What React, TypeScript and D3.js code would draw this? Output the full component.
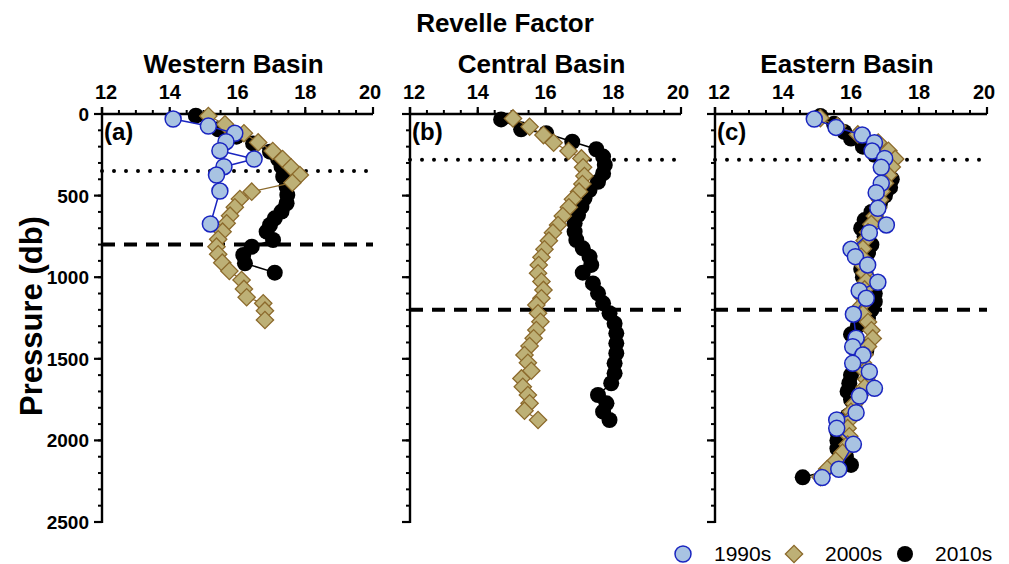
import * as d3 from "d3";

// Revelle factor profiles by basin and decade (pressure in db, RF unitless)
const chartTitle = "Revelle Factor";
const basinNames = ["Western Basin", "Central Basin", "Eastern Basin"];
const panelTags = ["(a)", "(b)", "(c)"];
const dottedDepths = [350, 280, 280];
const dashedDepths = [800, 1200, 1200];
const decades = ["1990s", "2000s", "2010s"];

const westP1990 = [31, 74, 118, 170, 225, 276, 323, 374, 472, 674];
const westRF1990 = [14.1, 15.14, 15.92, 15.66, 15.48, 16.49, 15.6, 15.38, 15.48, 15.2];

const westP2000 = [12, 63, 118, 174, 227, 276, 327, 374, 421, 476, 521, 572, 623, 670, 721, 768, 813, 860, 911, 962, 1017, 1072, 1123, 1160, 1205, 1262];
const westRF2000 = [15.14, 15.63, 16.19, 16.61, 17.04, 17.33, 17.58, 17.84, 17.62, 16.42, 16.07, 15.92, 15.78, 15.68, 15.56, 15.43, 15.38, 15.43, 15.55, 15.76, 16.12, 16.19, 16.27, 16.76, 16.81, 16.81];

const westP2010 = [10, 94, 139, 180, 231, 277, 323, 384, 445, 496, 547, 598, 639, 680, 721, 772, 813, 864, 915, 972];
const westRF2010 = [14.77, 15.43, 15.97, 16.46, 16.96, 17.2, 17.3, 17.35, 17.45, 17.47, 17.45, 17.3, 17.1, 16.96, 16.86, 17.05, 16.42, 16.17, 16.22, 17.1];

const centP2000 = [27, 78, 129, 176, 227, 272, 327, 380, 429, 476, 523, 572, 625, 680, 727, 776, 829, 878, 925, 976, 1027, 1078, 1129, 1170, 1221, 1273, 1324, 1374, 1422, 1477, 1524, 1573, 1620, 1671, 1722, 1773, 1818, 1875];
const centRF2000 = [15.04, 15.53, 15.94, 16.24, 16.68, 17.06, 17.11, 17.15, 17.09, 16.99, 16.81, 16.69, 16.51, 16.37, 16.22, 16.1, 15.97, 15.88, 15.8, 15.78, 15.88, 15.94, 15.88, 15.73, 15.78, 15.85, 15.73, 15.65, 15.53, 15.38, 15.48, 15.58, 15.29, 15.33, 15.48, 15.53, 15.38, 15.78];

const centP2010 = [33, 94, 118, 170, 216, 261, 312, 364, 415, 466, 517, 568, 619, 670, 721, 772, 823, 874, 925, 972, 1038, 1099, 1160, 1221, 1283, 1344, 1405, 1466, 1528, 1589, 1650, 1722, 1773, 1824, 1875];
const centRF2010 = [14.69, 15.28, 16.02, 16.79, 17.5, 17.7, 17.75, 17.7, 17.55, 17.3, 17.15, 17.06, 16.96, 16.86, 16.86, 16.91, 17.1, 17.3, 17.35, 17.1, 17.4, 17.55, 17.7, 17.89, 18.04, 18.09, 18.09, 18.09, 18.04, 18.04, 17.94, 17.55, 17.8, 17.7, 17.89];

const eastP1990 = [31, 82, 129, 176, 227, 272, 327, 425, 482, 578, 680, 727, 829, 874, 925, 1031, 1083, 1129, 1227, 1374, 1426, 1477, 1528, 1579, 1681, 1728, 1830, 1875, 1926, 2024, 2177, 2228];
const eastRF1990 = [14.92, 15.56, 16.33, 16.69, 16.62, 16.99, 16.89, 16.89, 16.74, 16.79, 17.04, 16.54, 16.0, 16.13, 16.49, 16.79, 16.24, 16.45, 16.07, 16.15, 16.05, 16.35, 16.05, 16.54, 16.69, 16.25, 16.15, 15.58, 15.58, 16.07, 15.64, 15.15];

const eastP2000 = [25, 75, 125, 175, 225, 275, 325, 375, 425, 475, 525, 575, 625, 675, 725, 775, 825, 875, 925, 975, 1025, 1075, 1125, 1175, 1225, 1275, 1325, 1375, 1425, 1475, 1525, 1575, 1625, 1675, 1725, 1775, 1825, 1875, 1925, 1975, 2025, 2075, 2125, 2175, 2225];
const eastRF2000 = [15.1, 15.6, 16.2, 16.8, 17.1, 17.3, 17.2, 17.1, 17.0, 16.9, 16.85, 16.8, 16.7, 16.6, 16.5, 16.4, 16.35, 16.3, 16.35, 16.4, 16.45, 16.4, 16.35, 16.3, 16.35, 16.5, 16.6, 16.64, 16.5, 16.4, 16.35, 16.4, 16.45, 16.4, 16.25, 16.1, 16.0, 15.95, 15.9, 15.95, 15.9, 15.75, 15.55, 15.3, 15.1];

const eastP2010 = [12, 60, 110, 150, 200, 250, 300, 350, 400, 450, 500, 550, 600, 650, 700, 750, 800, 850, 900, 950, 1000, 1050, 1100, 1150, 1200, 1250, 1300, 1350, 1400, 1450, 1500, 1550, 1600, 1650, 1700, 1750, 1800, 1850, 1900, 1950, 2000, 2050, 2100, 2150, 2226];
const eastRF2010 = [15.1, 15.5, 15.8, 16.0, 16.35, 16.7, 17.0, 17.1, 17.2, 17.15, 17.0, 16.85, 16.6, 16.4, 16.3, 16.4, 16.6, 16.5, 16.4, 16.3, 16.35, 16.5, 16.7, 16.7, 16.6, 16.5, 16.2, 16.0, 16.2, 16.45, 16.3, 16.1, 16.0, 15.95, 15.9, 16.0, 16.1, 15.9, 15.7, 15.6, 15.6, 15.6, 15.85, 16.0, 14.58];

type Pt = [number, number];
const zip = (p: number[], rf: number[]): Pt[] => p.map((d, i) => [d, rf[i]]);

const basins: { s1990: Pt[] | null; s2000: Pt[]; s2010: Pt[] }[] = [
  { s1990: zip(westP1990, westRF1990), s2000: zip(westP2000, westRF2000), s2010: zip(westP2010, westRF2010) },
  { s1990: null, s2000: zip(centP2000, centRF2000), s2010: zip(centP2010, centRF2010) },
  { s1990: zip(eastP1990, eastRF1990), s2000: zip(eastP2000, eastRF2000), s2010: zip(eastP2010, eastRF2010) },
];

const W = 1009;
const H = 564;
const plotTop = 114;
const plotBottom = 522;
const panelLeft = [102, 410, 715];
const panelRight = [373, 681, 987];

const FONT = "Arial, 'Liberation Sans', Helvetica, sans-serif";
const BLUE_FILL = "#a8c3e2";
const BLUE_STROKE = "#1a25c0";
const TAN_FILL = "#bdb076";
const TAN_STROKE = "#8c6a2c";

const yScale = d3.scaleLinear().domain([0, 2500]).range([plotTop, plotBottom]);
const diamondPath = d3.symbol(d3.symbolSquare, 150)() as string;

function Diamond({ cx, cy }: { cx: number; cy: number }) {
  return (
    <path
      d={diamondPath}
      transform={`translate(${cx},${cy}) rotate(45)`}
      fill={TAN_FILL}
      stroke={TAN_STROKE}
      strokeWidth={1.3}
    />
  );
}

function Panel({ i }: { i: number }) {
  const x = d3.scaleLinear().domain([12, 20]).range([panelLeft[i], panelRight[i]]);
  const line = d3
    .line<Pt>()
    .x((d) => x(d[1]))
    .y((d) => yScale(d[0]));
  const b = basins[i];
  const x0 = panelLeft[i];
  const x1 = panelRight[i];
  return (
    <g>
      {/* reference depths */}
      <line x1={x0} x2={x1} y1={yScale(dottedDepths[i])} y2={yScale(dottedDepths[i])}
        stroke="#000" strokeWidth={4} strokeDasharray="0 12" strokeLinecap="round" />
      <line x1={x0} x2={x1} y1={yScale(dashedDepths[i])} y2={yScale(dashedDepths[i])}
        stroke="#000" strokeWidth={4} strokeDasharray="13 9" />

      {/* axes */}
      <line x1={x0} x2={x1} y1={plotTop} y2={plotTop} stroke="#000" strokeWidth={2.4} />
      <line x1={x0} x2={x0} y1={plotTop - 7} y2={plotBottom + 1} stroke="#000" strokeWidth={2.4} />
      {x.ticks(16).map((t) => (
        <line key={"xm" + t} x1={x(t)} x2={x(t)} y1={plotTop} y2={plotTop - 4} stroke="#000" strokeWidth={2} />
      ))}
      {x.ticks(4).map((t) => (
        <g key={"xt" + t}>
          <line x1={x(t)} x2={x(t)} y1={plotTop} y2={plotTop - 7} stroke="#000" strokeWidth={2.2} />
          <text x={x(t) + (t === 12 ? 4 : t === 20 ? -3 : 0)} y={98.5}
            textAnchor="middle" fontSize={20} fontWeight="bold" fontFamily={FONT}>{t}</text>
        </g>
      ))}
      {yScale.ticks(25).map((t) => (
        <line key={"ym" + t} x1={x0} x2={x0 - 4} y1={yScale(t)} y2={yScale(t)} stroke="#000" strokeWidth={2} />
      ))}
      {yScale.ticks(5).map((t) => (
        <g key={"yt" + t}>
          <line x1={x0} x2={x0 - 8} y1={yScale(t)} y2={yScale(t)} stroke="#000" strokeWidth={2.2} />
          {i === 0 && (
            <text x={89} y={yScale(t) + 7} textAnchor="end"
              fontSize={19} fontWeight="bold" fontFamily={FONT}>
              {t}
            </text>
          )}
        </g>
      ))}

      <text x={(x0 + x1) / 2 - 4} y={73} textAnchor="middle"
        fontSize={26} fontWeight="bold" fontFamily={FONT}>
        {basinNames[i]}
      </text>
      <text x={x0 + 2} y={140} fontSize={24} fontWeight="bold" fontFamily={FONT}>
        {panelTags[i]}
      </text>

      {/* 2010s */}
      <path d={line(b.s2010) ?? ""} fill="none" stroke="#000" strokeWidth={1.5} />
      {b.s2010.map((d, k) => (
        <circle key={"k" + k} cx={x(d[1])} cy={yScale(d[0])} r={8} fill="#000" />
      ))}
      {/* 2000s */}
      <path d={line(b.s2000) ?? ""} fill="none" stroke={TAN_STROKE} strokeWidth={1.3} />
      {b.s2000.map((d, k) => (
        <Diamond key={"d" + k} cx={x(d[1])} cy={yScale(d[0])} />
      ))}
      {/* 1990s */}
      {b.s1990 && (
        <g>
          <path d={line(b.s1990) ?? ""} fill="none" stroke={BLUE_STROKE} strokeWidth={1.5} />
          {b.s1990.map((d, k) => (
            <circle key={"c" + k} cx={x(d[1])} cy={yScale(d[0])} r={8} fill={BLUE_FILL}
              stroke={BLUE_STROKE} strokeWidth={1.5} />
          ))}
        </g>
      )}
    </g>
  );
}

export default function App() {
  return (
    <div style={{ position: "absolute", left: 0, top: 0 }}>
      <svg width={W} height={H} style={{ display: "block", background: "#fff" }}>
        <text x={505} y={32} textAnchor="middle" fontSize={26} fontWeight="bold" fontFamily={FONT}>
          {chartTitle}
        </text>
        <text transform="translate(42,316) rotate(-90)" textAnchor="middle" fontSize={31}
          fontWeight="bold" fontFamily={FONT}>
          Pressure (db)
        </text>
        {[0, 1, 2].map((i) => (
          <Panel key={i} i={i} />
        ))}

        {/* legend */}
        <circle cx={683} cy={554} r={8} fill={BLUE_FILL} stroke={BLUE_STROKE} strokeWidth={1.5} />
        <text x={714} y={561} fontSize={21} fontFamily={FONT}>{decades[0]}</text>
        <Diamond cx={794} cy={554} />
        <text x={825} y={561} fontSize={21} fontFamily={FONT}>{decades[1]}</text>
        <circle cx={905} cy={554} r={8} fill="#000" />
        <text x={935} y={561} fontSize={21} fontFamily={FONT}>{decades[2]}</text>
      </svg>
    </div>
  );
}
